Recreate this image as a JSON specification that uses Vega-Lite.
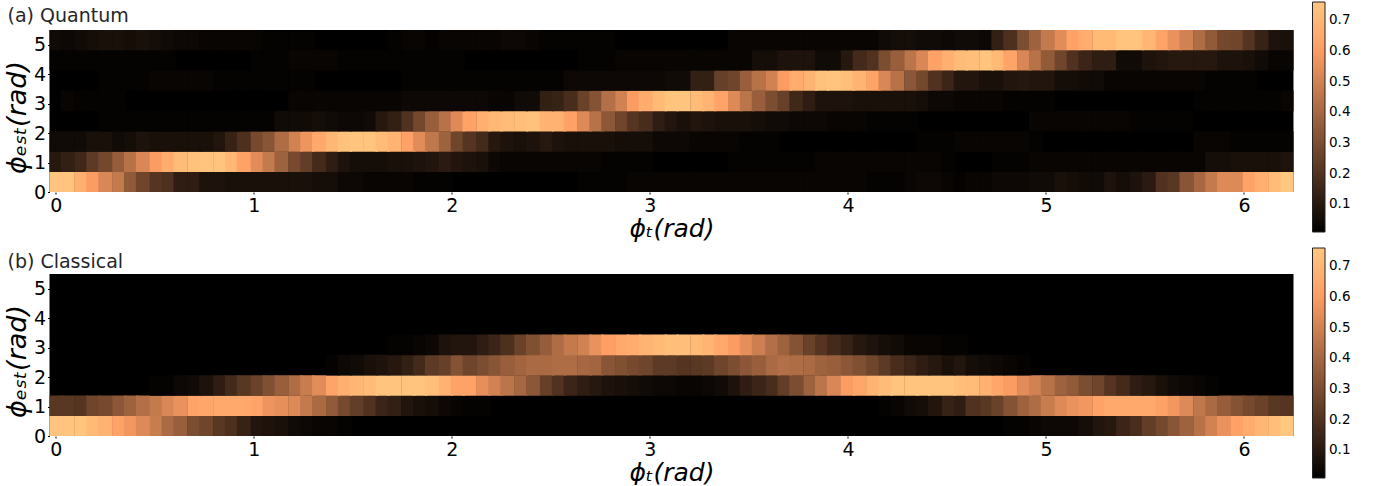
{"$schema":"https://vega.github.io/schema/vega-lite/v6.json","padding":{"left":2.5,"top":2,"right":0,"bottom":0},"background":"white","config":{"font":"DejaVu Sans","view":{"stroke":null,"fill":"#000000"},"axis":{"labelFont":"DejaVu Sans","titleFont":"DejaVu Sans","labelFontSize":19,"labelColor":"#000000","tickColor":"#000000","tickSize":2,"labelPadding":2,"grid":false,"domain":false,"titleFontSize":25,"titleFontStyle":"italic","titleFontWeight":"normal","titleColor":"#000000"},"title":{"font":"DejaVu Sans","fontSize":19,"fontWeight":"normal","anchor":"start","frame":"group","color":"#262626"}},"spacing":7,"resolve":{"scale":{"color":"independent"}},"vconcat":[{"width":1244,"height":162,"title":{"text":"(a) Quantum","dx":-42,"dy":30,"offset":6},"data":{"values":[
{"x":0,"y":0.34,"v":0.75},{"x":0.06,"y":0.34,"v":0.75},{"x":0.13,"y":0.34,"v":0.67},{"x":0.19,"y":0.34,"v":0.6},{"x":0.25,"y":0.34,"v":0.52},{"x":0.32,"y":0.34,"v":0.47},{"x":0.38,"y":0.34,"v":0.35},{"x":0.44,"y":0.34,"v":0.27},{"x":0.51,"y":0.34,"v":0.21},{"x":0.57,"y":0.34,"v":0.19},{"x":0.63,"y":0.34,"v":0.12},{"x":0.7,"y":0.34,"v":0.12},{"x":0.76,"y":0.34,"v":0.08},{"x":0.83,"y":0.34,"v":0.08},{"x":0.89,"y":0.34,"v":0.07},{"x":0.95,"y":0.34,"v":0.07},{"x":1.02,"y":0.34,"v":0.07},{"x":1.08,"y":0.34,"v":0.07},{"x":1.14,"y":0.34,"v":0.07},{"x":1.21,"y":0.34,"v":0.07},{"x":1.27,"y":0.34,"v":0.07},{"x":1.33,"y":0.34,"v":0.06},{"x":1.4,"y":0.34,"v":0.06},{"x":1.46,"y":0.34,"v":0.04},{"x":1.52,"y":0.34,"v":0.04},{"x":1.59,"y":0.34,"v":0.03},{"x":1.65,"y":0.34,"v":0.03},{"x":1.71,"y":0.34,"v":0.03},{"x":1.78,"y":0.34,"v":0.03},{"x":1.84,"y":0.34,"v":0.02},{"x":1.9,"y":0.34,"v":0.02},{"x":1.97,"y":0.34,"v":0.02},{"x":2.67,"y":0.34,"v":0.02},{"x":2.73,"y":0.34,"v":0.02},{"x":2.79,"y":0.34,"v":0.02},{"x":2.86,"y":0.34,"v":0.02},{"x":2.92,"y":0.34,"v":0.03},{"x":2.98,"y":0.34,"v":0.03},{"x":3.05,"y":0.34,"v":0.03},{"x":3.11,"y":0.34,"v":0.03},{"x":3.17,"y":0.34,"v":0.03},{"x":3.24,"y":0.34,"v":0.03},{"x":3.3,"y":0.34,"v":0.03},{"x":3.36,"y":0.34,"v":0.03},{"x":3.43,"y":0.34,"v":0.03},{"x":3.49,"y":0.34,"v":0.03},{"x":3.55,"y":0.34,"v":0.03},{"x":3.62,"y":0.34,"v":0.03},{"x":3.68,"y":0.34,"v":0.03},{"x":3.74,"y":0.34,"v":0.03},{"x":3.81,"y":0.34,"v":0.03},{"x":3.87,"y":0.34,"v":0.03},{"x":3.93,"y":0.34,"v":0.03},{"x":4,"y":0.34,"v":0.03},{"x":4.06,"y":0.34,"v":0.03},{"x":4.13,"y":0.34,"v":0.02},{"x":4.19,"y":0.34,"v":0.02},{"x":4.25,"y":0.34,"v":0.02},{"x":4.32,"y":0.34,"v":0.03},{"x":4.38,"y":0.34,"v":0.04},{"x":4.44,"y":0.34,"v":0.04},{"x":4.51,"y":0.34,"v":0.03},{"x":4.57,"y":0.34,"v":0.02},{"x":4.63,"y":0.34,"v":0.03},{"x":4.7,"y":0.34,"v":0.03},{"x":4.76,"y":0.34,"v":0.04},{"x":4.82,"y":0.34,"v":0.04},{"x":4.89,"y":0.34,"v":0.04},{"x":4.95,"y":0.34,"v":0.05},{"x":5.01,"y":0.34,"v":0.05},{"x":5.08,"y":0.34,"v":0.07},{"x":5.14,"y":0.34,"v":0.06},{"x":5.2,"y":0.34,"v":0.05},{"x":5.27,"y":0.34,"v":0.05},{"x":5.33,"y":0.34,"v":0.08},{"x":5.39,"y":0.34,"v":0.06},{"x":5.46,"y":0.34,"v":0.08},{"x":5.52,"y":0.34,"v":0.11},{"x":5.59,"y":0.34,"v":0.2},{"x":5.65,"y":0.34,"v":0.22},{"x":5.71,"y":0.34,"v":0.33},{"x":5.78,"y":0.34,"v":0.4},{"x":5.84,"y":0.34,"v":0.47},{"x":5.9,"y":0.34,"v":0.53},{"x":5.97,"y":0.34,"v":0.53},{"x":6.03,"y":0.34,"v":0.62},{"x":6.09,"y":0.34,"v":0.67},{"x":6.16,"y":0.34,"v":0.72},{"x":6.22,"y":0.34,"v":0.76},
{"x":0,"y":1.03,"v":0.1},{"x":0.06,"y":1.03,"v":0.13},{"x":0.13,"y":1.03,"v":0.16},{"x":0.19,"y":1.03,"v":0.23},{"x":0.25,"y":1.03,"v":0.28},{"x":0.32,"y":1.03,"v":0.36},{"x":0.38,"y":1.03,"v":0.44},{"x":0.44,"y":1.03,"v":0.52},{"x":0.51,"y":1.03,"v":0.6},{"x":0.57,"y":1.03,"v":0.66},{"x":0.63,"y":1.03,"v":0.72},{"x":0.7,"y":1.03,"v":0.74},{"x":0.76,"y":1.03,"v":0.75},{"x":0.83,"y":1.03,"v":0.75},{"x":0.89,"y":1.03,"v":0.7},{"x":0.95,"y":1.03,"v":0.62},{"x":1.02,"y":1.03,"v":0.54},{"x":1.08,"y":1.03,"v":0.47},{"x":1.14,"y":1.03,"v":0.38},{"x":1.21,"y":1.03,"v":0.29},{"x":1.27,"y":1.03,"v":0.24},{"x":1.33,"y":1.03,"v":0.17},{"x":1.4,"y":1.03,"v":0.12},{"x":1.46,"y":1.03,"v":0.08},{"x":1.52,"y":1.03,"v":0.06},{"x":1.59,"y":1.03,"v":0.06},{"x":1.65,"y":1.03,"v":0.06},{"x":1.71,"y":1.03,"v":0.07},{"x":1.78,"y":1.03,"v":0.07},{"x":1.84,"y":1.03,"v":0.08},{"x":1.9,"y":1.03,"v":0.09},{"x":1.97,"y":1.03,"v":0.11},{"x":2.03,"y":1.03,"v":0.09},{"x":2.09,"y":1.03,"v":0.08},{"x":2.16,"y":1.03,"v":0.07},{"x":2.22,"y":1.03,"v":0.04},{"x":2.28,"y":1.03,"v":0.03},{"x":2.35,"y":1.03,"v":0.03},{"x":2.41,"y":1.03,"v":0.03},{"x":2.48,"y":1.03,"v":0.03},{"x":2.54,"y":1.03,"v":0.03},{"x":2.6,"y":1.03,"v":0.03},{"x":2.67,"y":1.03,"v":0.03},{"x":2.73,"y":1.03,"v":0.03},{"x":2.79,"y":1.03,"v":0.02},{"x":2.86,"y":1.03,"v":0.02},{"x":2.92,"y":1.03,"v":0.02},{"x":2.98,"y":1.03,"v":0.02},{"x":3.43,"y":1.03,"v":0.02},{"x":3.49,"y":1.03,"v":0.02},{"x":3.55,"y":1.03,"v":0.02},{"x":3.62,"y":1.03,"v":0.02},{"x":3.68,"y":1.03,"v":0.02},{"x":3.74,"y":1.03,"v":0.02},{"x":3.81,"y":1.03,"v":0.02},{"x":3.87,"y":1.03,"v":0.03},{"x":3.93,"y":1.03,"v":0.03},{"x":4,"y":1.03,"v":0.03},{"x":4.06,"y":1.03,"v":0.03},{"x":4.13,"y":1.03,"v":0.03},{"x":4.19,"y":1.03,"v":0.03},{"x":4.25,"y":1.03,"v":0.03},{"x":4.32,"y":1.03,"v":0.03},{"x":4.38,"y":1.03,"v":0.03},{"x":4.44,"y":1.03,"v":0.03},{"x":4.51,"y":1.03,"v":0.02},{"x":4.76,"y":1.03,"v":0.02},{"x":4.82,"y":1.03,"v":0.02},{"x":4.89,"y":1.03,"v":0.02},{"x":4.95,"y":1.03,"v":0.03},{"x":5.01,"y":1.03,"v":0.03},{"x":5.08,"y":1.03,"v":0.03},{"x":5.14,"y":1.03,"v":0.03},{"x":5.2,"y":1.03,"v":0.03},{"x":5.27,"y":1.03,"v":0.03},{"x":5.33,"y":1.03,"v":0.03},{"x":5.39,"y":1.03,"v":0.03},{"x":5.46,"y":1.03,"v":0.03},{"x":5.52,"y":1.03,"v":0.03},{"x":5.59,"y":1.03,"v":0.03},{"x":5.65,"y":1.03,"v":0.03},{"x":5.71,"y":1.03,"v":0.03},{"x":5.78,"y":1.03,"v":0.03},{"x":5.84,"y":1.03,"v":0.06},{"x":5.9,"y":1.03,"v":0.06},{"x":5.97,"y":1.03,"v":0.07},{"x":6.03,"y":1.03,"v":0.07},{"x":6.09,"y":1.03,"v":0.07},{"x":6.16,"y":1.03,"v":0.07},{"x":6.22,"y":1.03,"v":0.08},
{"x":0,"y":1.72,"v":0.05},{"x":0.06,"y":1.72,"v":0.05},{"x":0.13,"y":1.72,"v":0.05},{"x":0.19,"y":1.72,"v":0.07},{"x":0.25,"y":1.72,"v":0.07},{"x":0.32,"y":1.72,"v":0.05},{"x":0.38,"y":1.72,"v":0.06},{"x":0.44,"y":1.72,"v":0.08},{"x":0.51,"y":1.72,"v":0.07},{"x":0.57,"y":1.72,"v":0.07},{"x":0.63,"y":1.72,"v":0.07},{"x":0.7,"y":1.72,"v":0.07},{"x":0.76,"y":1.72,"v":0.07},{"x":0.83,"y":1.72,"v":0.09},{"x":0.89,"y":1.72,"v":0.14},{"x":0.95,"y":1.72,"v":0.19},{"x":1.02,"y":1.72,"v":0.29},{"x":1.08,"y":1.72,"v":0.33},{"x":1.14,"y":1.72,"v":0.42},{"x":1.21,"y":1.72,"v":0.5},{"x":1.27,"y":1.72,"v":0.57},{"x":1.33,"y":1.72,"v":0.65},{"x":1.4,"y":1.72,"v":0.7},{"x":1.46,"y":1.72,"v":0.74},{"x":1.52,"y":1.72,"v":0.75},{"x":1.59,"y":1.72,"v":0.75},{"x":1.65,"y":1.72,"v":0.72},{"x":1.71,"y":1.72,"v":0.69},{"x":1.78,"y":1.72,"v":0.62},{"x":1.84,"y":1.72,"v":0.54},{"x":1.9,"y":1.72,"v":0.46},{"x":1.97,"y":1.72,"v":0.38},{"x":2.03,"y":1.72,"v":0.27},{"x":2.09,"y":1.72,"v":0.21},{"x":2.16,"y":1.72,"v":0.17},{"x":2.22,"y":1.72,"v":0.1},{"x":2.28,"y":1.72,"v":0.08},{"x":2.35,"y":1.72,"v":0.07},{"x":2.41,"y":1.72,"v":0.08},{"x":2.48,"y":1.72,"v":0.1},{"x":2.54,"y":1.72,"v":0.08},{"x":2.6,"y":1.72,"v":0.07},{"x":2.67,"y":1.72,"v":0.07},{"x":2.73,"y":1.72,"v":0.07},{"x":2.79,"y":1.72,"v":0.07},{"x":2.86,"y":1.72,"v":0.06},{"x":2.92,"y":1.72,"v":0.06},{"x":2.98,"y":1.72,"v":0.06},{"x":3.05,"y":1.72,"v":0.04},{"x":3.11,"y":1.72,"v":0.04},{"x":3.17,"y":1.72,"v":0.04},{"x":3.24,"y":1.72,"v":0.03},{"x":3.3,"y":1.72,"v":0.03},{"x":3.36,"y":1.72,"v":0.03},{"x":3.43,"y":1.72,"v":0.03},{"x":3.49,"y":1.72,"v":0.02},{"x":3.55,"y":1.72,"v":0.02},{"x":3.62,"y":1.72,"v":0.02},{"x":4.38,"y":1.72,"v":0.02},{"x":4.44,"y":1.72,"v":0.02},{"x":4.51,"y":1.72,"v":0.02},{"x":4.57,"y":1.72,"v":0.03},{"x":4.63,"y":1.72,"v":0.03},{"x":4.7,"y":1.72,"v":0.03},{"x":4.76,"y":1.72,"v":0.03},{"x":4.82,"y":1.72,"v":0.03},{"x":4.89,"y":1.72,"v":0.03},{"x":4.95,"y":1.72,"v":0.02},{"x":5.78,"y":1.72,"v":0.03},{"x":5.84,"y":1.72,"v":0.03},{"x":5.9,"y":1.72,"v":0.03},{"x":5.97,"y":1.72,"v":0.02},{"x":6.03,"y":1.72,"v":0.02},{"x":6.09,"y":1.72,"v":0.02},{"x":6.16,"y":1.72,"v":0.02},{"x":6.22,"y":1.72,"v":0.02},
{"x":0.25,"y":2.41,"v":0.02},{"x":0.32,"y":2.41,"v":0.02},{"x":0.38,"y":2.41,"v":0.02},{"x":0.44,"y":2.41,"v":0.02},{"x":0.51,"y":2.41,"v":0.02},{"x":0.57,"y":2.41,"v":0.02},{"x":0.63,"y":2.41,"v":0.02},{"x":0.7,"y":2.41,"v":0.02},{"x":0.76,"y":2.41,"v":0.02},{"x":0.83,"y":2.41,"v":0.02},{"x":0.89,"y":2.41,"v":0.02},{"x":0.95,"y":2.41,"v":0.02},{"x":1.02,"y":2.41,"v":0.02},{"x":1.08,"y":2.41,"v":0.02},{"x":1.14,"y":2.41,"v":0.05},{"x":1.21,"y":2.41,"v":0.05},{"x":1.27,"y":2.41,"v":0.05},{"x":1.33,"y":2.41,"v":0.06},{"x":1.4,"y":2.41,"v":0.05},{"x":1.46,"y":2.41,"v":0.04},{"x":1.52,"y":2.41,"v":0.04},{"x":1.59,"y":2.41,"v":0.05},{"x":1.65,"y":2.41,"v":0.1},{"x":1.71,"y":2.41,"v":0.13},{"x":1.78,"y":2.41,"v":0.2},{"x":1.84,"y":2.41,"v":0.28},{"x":1.9,"y":2.41,"v":0.37},{"x":1.97,"y":2.41,"v":0.44},{"x":2.03,"y":2.41,"v":0.53},{"x":2.09,"y":2.41,"v":0.62},{"x":2.16,"y":2.41,"v":0.67},{"x":2.22,"y":2.41,"v":0.7},{"x":2.28,"y":2.41,"v":0.72},{"x":2.35,"y":2.41,"v":0.73},{"x":2.41,"y":2.41,"v":0.74},{"x":2.48,"y":2.41,"v":0.69},{"x":2.54,"y":2.41,"v":0.68},{"x":2.6,"y":2.41,"v":0.62},{"x":2.67,"y":2.41,"v":0.53},{"x":2.73,"y":2.41,"v":0.44},{"x":2.79,"y":2.41,"v":0.34},{"x":2.86,"y":2.41,"v":0.27},{"x":2.92,"y":2.41,"v":0.21},{"x":2.98,"y":2.41,"v":0.18},{"x":3.05,"y":2.41,"v":0.12},{"x":3.11,"y":2.41,"v":0.09},{"x":3.17,"y":2.41,"v":0.07},{"x":3.24,"y":2.41,"v":0.09},{"x":3.3,"y":2.41,"v":0.08},{"x":3.36,"y":2.41,"v":0.07},{"x":3.43,"y":2.41,"v":0.07},{"x":3.49,"y":2.41,"v":0.07},{"x":3.55,"y":2.41,"v":0.06},{"x":3.62,"y":2.41,"v":0.05},{"x":3.68,"y":2.41,"v":0.05},{"x":3.74,"y":2.41,"v":0.04},{"x":3.81,"y":2.41,"v":0.04},{"x":3.87,"y":2.41,"v":0.04},{"x":3.93,"y":2.41,"v":0.03},{"x":4,"y":2.41,"v":0.03},{"x":4.06,"y":2.41,"v":0.03},{"x":4.13,"y":2.41,"v":0.02},{"x":4.19,"y":2.41,"v":0.02},{"x":4.25,"y":2.41,"v":0.02},{"x":4.32,"y":2.41,"v":0.02},{"x":4.95,"y":2.41,"v":0.03},{"x":5.01,"y":2.41,"v":0.03},{"x":5.08,"y":2.41,"v":0.03},{"x":5.14,"y":2.41,"v":0.03},{"x":5.2,"y":2.41,"v":0.03},{"x":5.27,"y":2.41,"v":0.03},{"x":5.33,"y":2.41,"v":0.03},{"x":5.39,"y":2.41,"v":0.03},{"x":5.46,"y":2.41,"v":0.02},{"x":5.52,"y":2.41,"v":0.02},{"x":5.59,"y":2.41,"v":0.02},{"x":5.65,"y":2.41,"v":0.02},{"x":5.71,"y":2.41,"v":0.02},
{"x":0.06,"y":3.1,"v":0.03},{"x":0.13,"y":3.1,"v":0.02},{"x":0.19,"y":3.1,"v":0.02},{"x":0.25,"y":3.1,"v":0.02},{"x":0.32,"y":3.1,"v":0.02},{"x":1.21,"y":3.1,"v":0.03},{"x":1.27,"y":3.1,"v":0.03},{"x":1.33,"y":3.1,"v":0.03},{"x":1.4,"y":3.1,"v":0.03},{"x":1.46,"y":3.1,"v":0.03},{"x":1.52,"y":3.1,"v":0.03},{"x":1.59,"y":3.1,"v":0.03},{"x":1.65,"y":3.1,"v":0.03},{"x":1.71,"y":3.1,"v":0.03},{"x":1.78,"y":3.1,"v":0.04},{"x":1.84,"y":3.1,"v":0.04},{"x":1.9,"y":3.1,"v":0.04},{"x":1.97,"y":3.1,"v":0.04},{"x":2.03,"y":3.1,"v":0.04},{"x":2.09,"y":3.1,"v":0.04},{"x":2.16,"y":3.1,"v":0.04},{"x":2.22,"y":3.1,"v":0.03},{"x":2.28,"y":3.1,"v":0.03},{"x":2.35,"y":3.1,"v":0.05},{"x":2.41,"y":3.1,"v":0.05},{"x":2.48,"y":3.1,"v":0.13},{"x":2.54,"y":3.1,"v":0.14},{"x":2.6,"y":3.1,"v":0.18},{"x":2.67,"y":3.1,"v":0.26},{"x":2.73,"y":3.1,"v":0.32},{"x":2.79,"y":3.1,"v":0.43},{"x":2.86,"y":3.1,"v":0.5},{"x":2.92,"y":3.1,"v":0.6},{"x":2.98,"y":3.1,"v":0.66},{"x":3.05,"y":3.1,"v":0.71},{"x":3.11,"y":3.1,"v":0.75},{"x":3.17,"y":3.1,"v":0.75},{"x":3.24,"y":3.1,"v":0.72},{"x":3.3,"y":3.1,"v":0.69},{"x":3.36,"y":3.1,"v":0.63},{"x":3.43,"y":3.1,"v":0.53},{"x":3.49,"y":3.1,"v":0.45},{"x":3.55,"y":3.1,"v":0.37},{"x":3.62,"y":3.1,"v":0.3},{"x":3.68,"y":3.1,"v":0.25},{"x":3.74,"y":3.1,"v":0.16},{"x":3.81,"y":3.1,"v":0.12},{"x":3.87,"y":3.1,"v":0.08},{"x":3.93,"y":3.1,"v":0.08},{"x":4,"y":3.1,"v":0.08},{"x":4.06,"y":3.1,"v":0.07},{"x":4.13,"y":3.1,"v":0.07},{"x":4.19,"y":3.1,"v":0.07},{"x":4.25,"y":3.1,"v":0.07},{"x":4.32,"y":3.1,"v":0.07},{"x":4.38,"y":3.1,"v":0.06},{"x":4.44,"y":3.1,"v":0.04},{"x":4.51,"y":3.1,"v":0.04},{"x":4.57,"y":3.1,"v":0.03},{"x":4.63,"y":3.1,"v":0.03},{"x":4.7,"y":3.1,"v":0.03},{"x":4.76,"y":3.1,"v":0.03},{"x":4.82,"y":3.1,"v":0.02},{"x":4.89,"y":3.1,"v":0.02},{"x":4.95,"y":3.1,"v":0.02},{"x":5.01,"y":3.1,"v":0.02},{"x":5.78,"y":3.1,"v":0.02},{"x":5.84,"y":3.1,"v":0.02},{"x":5.9,"y":3.1,"v":0.02},{"x":5.97,"y":3.1,"v":0.02},{"x":6.03,"y":3.1,"v":0.02},{"x":6.09,"y":3.1,"v":0.02},{"x":6.16,"y":3.1,"v":0.02},{"x":6.22,"y":3.1,"v":0.03},
{"x":0.25,"y":3.79,"v":0.02},{"x":0.32,"y":3.79,"v":0.02},{"x":0.38,"y":3.79,"v":0.02},{"x":0.44,"y":3.79,"v":0.02},{"x":0.51,"y":3.79,"v":0.03},{"x":0.57,"y":3.79,"v":0.03},{"x":0.63,"y":3.79,"v":0.03},{"x":0.7,"y":3.79,"v":0.03},{"x":0.76,"y":3.79,"v":0.03},{"x":0.83,"y":3.79,"v":0.02},{"x":0.89,"y":3.79,"v":0.02},{"x":0.95,"y":3.79,"v":0.02},{"x":1.02,"y":3.79,"v":0.02},{"x":1.08,"y":3.79,"v":0.02},{"x":1.14,"y":3.79,"v":0.02},{"x":1.21,"y":3.79,"v":0.02},{"x":1.27,"y":3.79,"v":0.02},{"x":1.78,"y":3.79,"v":0.02},{"x":1.84,"y":3.79,"v":0.02},{"x":1.9,"y":3.79,"v":0.02},{"x":1.97,"y":3.79,"v":0.02},{"x":2.03,"y":3.79,"v":0.02},{"x":2.09,"y":3.79,"v":0.02},{"x":2.16,"y":3.79,"v":0.02},{"x":2.22,"y":3.79,"v":0.02},{"x":2.28,"y":3.79,"v":0.02},{"x":2.35,"y":3.79,"v":0.02},{"x":2.41,"y":3.79,"v":0.02},{"x":2.48,"y":3.79,"v":0.02},{"x":2.54,"y":3.79,"v":0.02},{"x":2.6,"y":3.79,"v":0.04},{"x":2.67,"y":3.79,"v":0.04},{"x":2.73,"y":3.79,"v":0.04},{"x":2.79,"y":3.79,"v":0.04},{"x":2.86,"y":3.79,"v":0.04},{"x":2.92,"y":3.79,"v":0.04},{"x":2.98,"y":3.79,"v":0.04},{"x":3.05,"y":3.79,"v":0.04},{"x":3.11,"y":3.79,"v":0.05},{"x":3.17,"y":3.79,"v":0.05},{"x":3.24,"y":3.79,"v":0.13},{"x":3.3,"y":3.79,"v":0.13},{"x":3.36,"y":3.79,"v":0.25},{"x":3.43,"y":3.79,"v":0.27},{"x":3.49,"y":3.79,"v":0.37},{"x":3.55,"y":3.79,"v":0.44},{"x":3.62,"y":3.79,"v":0.5},{"x":3.68,"y":3.79,"v":0.6},{"x":3.74,"y":3.79,"v":0.66},{"x":3.81,"y":3.79,"v":0.69},{"x":3.87,"y":3.79,"v":0.74},{"x":3.93,"y":3.79,"v":0.75},{"x":4,"y":3.79,"v":0.73},{"x":4.06,"y":3.79,"v":0.69},{"x":4.13,"y":3.79,"v":0.63},{"x":4.19,"y":3.79,"v":0.52},{"x":4.25,"y":3.79,"v":0.44},{"x":4.32,"y":3.79,"v":0.34},{"x":4.38,"y":3.79,"v":0.28},{"x":4.44,"y":3.79,"v":0.2},{"x":4.51,"y":3.79,"v":0.15},{"x":4.57,"y":3.79,"v":0.09},{"x":4.63,"y":3.79,"v":0.09},{"x":4.7,"y":3.79,"v":0.07},{"x":4.76,"y":3.79,"v":0.07},{"x":4.82,"y":3.79,"v":0.09},{"x":4.89,"y":3.79,"v":0.1},{"x":4.95,"y":3.79,"v":0.09},{"x":5.01,"y":3.79,"v":0.09},{"x":5.08,"y":3.79,"v":0.06},{"x":5.14,"y":3.79,"v":0.06},{"x":5.2,"y":3.79,"v":0.05},{"x":5.27,"y":3.79,"v":0.05},{"x":5.33,"y":3.79,"v":0.03},{"x":5.39,"y":3.79,"v":0.03},{"x":5.46,"y":3.79,"v":0.03},{"x":5.52,"y":3.79,"v":0.03},{"x":5.59,"y":3.79,"v":0.03},{"x":5.65,"y":3.79,"v":0.03},{"x":5.71,"y":3.79,"v":0.03},{"x":5.78,"y":3.79,"v":0.03},{"x":5.84,"y":3.79,"v":0.02},{"x":5.9,"y":3.79,"v":0.02},{"x":5.97,"y":3.79,"v":0.02},{"x":6.03,"y":3.79,"v":0.02},
{"x":0,"y":4.48,"v":0.02},{"x":0.06,"y":4.48,"v":0.02},{"x":0.13,"y":4.48,"v":0.02},{"x":0.19,"y":4.48,"v":0.02},{"x":0.25,"y":4.48,"v":0.02},{"x":0.32,"y":4.48,"v":0.02},{"x":0.38,"y":4.48,"v":0.02},{"x":0.44,"y":4.48,"v":0.02},{"x":0.51,"y":4.48,"v":0.02},{"x":0.57,"y":4.48,"v":0.02},{"x":1.02,"y":4.48,"v":0.02},{"x":1.08,"y":4.48,"v":0.02},{"x":1.14,"y":4.48,"v":0.02},{"x":1.21,"y":4.48,"v":0.03},{"x":1.27,"y":4.48,"v":0.03},{"x":1.33,"y":4.48,"v":0.03},{"x":1.4,"y":4.48,"v":0.03},{"x":1.46,"y":4.48,"v":0.02},{"x":1.52,"y":4.48,"v":0.02},{"x":1.59,"y":4.48,"v":0.02},{"x":1.65,"y":4.48,"v":0.02},{"x":1.71,"y":4.48,"v":0.02},{"x":1.78,"y":4.48,"v":0.02},{"x":1.84,"y":4.48,"v":0.02},{"x":1.9,"y":4.48,"v":0.02},{"x":1.97,"y":4.48,"v":0.02},{"x":2.03,"y":4.48,"v":0.02},{"x":2.67,"y":4.48,"v":0.02},{"x":2.73,"y":4.48,"v":0.02},{"x":2.79,"y":4.48,"v":0.02},{"x":2.86,"y":4.48,"v":0.03},{"x":2.92,"y":4.48,"v":0.03},{"x":2.98,"y":4.48,"v":0.03},{"x":3.05,"y":4.48,"v":0.03},{"x":3.11,"y":4.48,"v":0.03},{"x":3.17,"y":4.48,"v":0.03},{"x":3.24,"y":4.48,"v":0.03},{"x":3.3,"y":4.48,"v":0.03},{"x":3.36,"y":4.48,"v":0.03},{"x":3.43,"y":4.48,"v":0.03},{"x":3.49,"y":4.48,"v":0.03},{"x":3.55,"y":4.48,"v":0.06},{"x":3.62,"y":4.48,"v":0.06},{"x":3.68,"y":4.48,"v":0.08},{"x":3.74,"y":4.48,"v":0.08},{"x":3.81,"y":4.48,"v":0.08},{"x":3.87,"y":4.48,"v":0.05},{"x":3.93,"y":4.48,"v":0.05},{"x":4,"y":4.48,"v":0.1},{"x":4.06,"y":4.48,"v":0.17},{"x":4.13,"y":4.48,"v":0.2},{"x":4.19,"y":4.48,"v":0.3},{"x":4.25,"y":4.48,"v":0.37},{"x":4.32,"y":4.48,"v":0.45},{"x":4.38,"y":4.48,"v":0.52},{"x":4.44,"y":4.48,"v":0.62},{"x":4.51,"y":4.48,"v":0.67},{"x":4.57,"y":4.48,"v":0.72},{"x":4.63,"y":4.48,"v":0.73},{"x":4.7,"y":4.48,"v":0.75},{"x":4.76,"y":4.48,"v":0.71},{"x":4.82,"y":4.48,"v":0.63},{"x":4.89,"y":4.48,"v":0.52},{"x":4.95,"y":4.48,"v":0.44},{"x":5.01,"y":4.48,"v":0.35},{"x":5.08,"y":4.48,"v":0.27},{"x":5.14,"y":4.48,"v":0.2},{"x":5.2,"y":4.48,"v":0.15},{"x":5.27,"y":4.48,"v":0.12},{"x":5.33,"y":4.48,"v":0.12},{"x":5.39,"y":4.48,"v":0.05},{"x":5.46,"y":4.48,"v":0.05},{"x":5.52,"y":4.48,"v":0.08},{"x":5.59,"y":4.48,"v":0.09},{"x":5.65,"y":4.48,"v":0.1},{"x":5.71,"y":4.48,"v":0.1},{"x":5.78,"y":4.48,"v":0.1},{"x":5.84,"y":4.48,"v":0.1},{"x":5.9,"y":4.48,"v":0.08},{"x":5.97,"y":4.48,"v":0.08},{"x":6.03,"y":4.48,"v":0.07},{"x":6.09,"y":4.48,"v":0.05},{"x":6.16,"y":4.48,"v":0.03},{"x":6.22,"y":4.48,"v":0.03},
{"x":0,"y":5.17,"v":0.05},{"x":0.06,"y":5.17,"v":0.04},{"x":0.13,"y":5.17,"v":0.05},{"x":0.19,"y":5.17,"v":0.06},{"x":0.25,"y":5.17,"v":0.07},{"x":0.32,"y":5.17,"v":0.07},{"x":0.38,"y":5.17,"v":0.06},{"x":0.44,"y":5.17,"v":0.07},{"x":0.51,"y":5.17,"v":0.06},{"x":0.57,"y":5.17,"v":0.05},{"x":0.63,"y":5.17,"v":0.04},{"x":0.7,"y":5.17,"v":0.04},{"x":0.76,"y":5.17,"v":0.03},{"x":0.83,"y":5.17,"v":0.03},{"x":0.89,"y":5.17,"v":0.03},{"x":0.95,"y":5.17,"v":0.03},{"x":1.02,"y":5.17,"v":0.03},{"x":1.08,"y":5.17,"v":0.02},{"x":1.14,"y":5.17,"v":0.02},{"x":1.21,"y":5.17,"v":0.02},{"x":1.27,"y":5.17,"v":0.02},{"x":1.71,"y":5.17,"v":0.02},{"x":1.78,"y":5.17,"v":0.03},{"x":1.84,"y":5.17,"v":0.03},{"x":1.9,"y":5.17,"v":0.02},{"x":1.97,"y":5.17,"v":0.03},{"x":2.03,"y":5.17,"v":0.03},{"x":2.09,"y":5.17,"v":0.03},{"x":2.16,"y":5.17,"v":0.03},{"x":2.22,"y":5.17,"v":0.03},{"x":2.28,"y":5.17,"v":0.04},{"x":2.35,"y":5.17,"v":0.04},{"x":2.41,"y":5.17,"v":0.03},{"x":2.48,"y":5.17,"v":0.02},{"x":2.54,"y":5.17,"v":0.02},{"x":2.6,"y":5.17,"v":0.02},{"x":2.67,"y":5.17,"v":0.02},{"x":2.73,"y":5.17,"v":0.02},{"x":2.79,"y":5.17,"v":0.02},{"x":3.43,"y":5.17,"v":0.03},{"x":3.49,"y":5.17,"v":0.03},{"x":3.55,"y":5.17,"v":0.03},{"x":3.62,"y":5.17,"v":0.03},{"x":3.68,"y":5.17,"v":0.03},{"x":3.74,"y":5.17,"v":0.03},{"x":3.81,"y":5.17,"v":0.03},{"x":3.87,"y":5.17,"v":0.03},{"x":3.93,"y":5.17,"v":0.03},{"x":4,"y":5.17,"v":0.03},{"x":4.06,"y":5.17,"v":0.03},{"x":4.13,"y":5.17,"v":0.03},{"x":4.19,"y":5.17,"v":0.05},{"x":4.25,"y":5.17,"v":0.06},{"x":4.32,"y":5.17,"v":0.06},{"x":4.38,"y":5.17,"v":0.05},{"x":4.44,"y":5.17,"v":0.05},{"x":4.51,"y":5.17,"v":0.04},{"x":4.57,"y":5.17,"v":0.05},{"x":4.63,"y":5.17,"v":0.05},{"x":4.7,"y":5.17,"v":0.04},{"x":4.76,"y":5.17,"v":0.13},{"x":4.82,"y":5.17,"v":0.19},{"x":4.89,"y":5.17,"v":0.3},{"x":4.95,"y":5.17,"v":0.38},{"x":5.01,"y":5.17,"v":0.47},{"x":5.08,"y":5.17,"v":0.54},{"x":5.14,"y":5.17,"v":0.62},{"x":5.2,"y":5.17,"v":0.66},{"x":5.27,"y":5.17,"v":0.71},{"x":5.33,"y":5.17,"v":0.71},{"x":5.39,"y":5.17,"v":0.75},{"x":5.46,"y":5.17,"v":0.75},{"x":5.52,"y":5.17,"v":0.7},{"x":5.59,"y":5.17,"v":0.63},{"x":5.65,"y":5.17,"v":0.56},{"x":5.71,"y":5.17,"v":0.5},{"x":5.78,"y":5.17,"v":0.42},{"x":5.84,"y":5.17,"v":0.35},{"x":5.9,"y":5.17,"v":0.28},{"x":5.97,"y":5.17,"v":0.27},{"x":6.03,"y":5.17,"v":0.21},{"x":6.09,"y":5.17,"v":0.14},{"x":6.16,"y":5.17,"v":0.08},{"x":6.22,"y":5.17,"v":0.07}
]},"mark":{"type":"rect","width":14.2,"height":20.6,"clip":true},"encoding":{"x":{"field":"x","type":"quantitative","scale":{"domain":[-0.032,6.25],"nice":false,"zero":false},"axis":{"values":[0,1,2,3,4,5,6],"title":"ϕₜ(rad)","titlePadding":1,"labelAngle":0}},"y":{"field":"y","type":"quantitative","scale":{"domain":[0,5.51],"nice":false,"zero":false},"axis":{"values":[0,1,2,3,4,5],"title":"ϕₑₛₜ(rad)","titlePadding":2,"titleFontSize":27,"titleY":87}},"color":{"field":"v","type":"quantitative","scale":{"domain":[0.01,0.61,0.76],"range":["#000000","#ff9f65","#ffc77f"],"interpolate":"rgb"},"legend":{"title":null,"orient":"none","legendX":1263,"legendY":-28,"gradientLength":230,"gradientThickness":12.5,"values":[0.1,0.2,0.3,0.4,0.5,0.6,0.7],"labelFontSize":13.5,"labelColor":"#000000","labelOffset":4,"gradientStrokeColor":"#222222","gradientStrokeWidth":1,"format":".1f"}}}},{"width":1244,"height":162,"title":{"text":"(b) Classical","dx":-42,"dy":30,"offset":6},"data":{"values":[
{"x":0,"y":0.34,"v":0.75},{"x":0.06,"y":0.34,"v":0.75},{"x":0.13,"y":0.34,"v":0.75},{"x":0.19,"y":0.34,"v":0.71},{"x":0.25,"y":0.34,"v":0.68},{"x":0.32,"y":0.34,"v":0.62},{"x":0.38,"y":0.34,"v":0.58},{"x":0.44,"y":0.34,"v":0.53},{"x":0.51,"y":0.34,"v":0.48},{"x":0.57,"y":0.34,"v":0.41},{"x":0.63,"y":0.34,"v":0.37},{"x":0.7,"y":0.34,"v":0.3},{"x":0.76,"y":0.34,"v":0.27},{"x":0.83,"y":0.34,"v":0.22},{"x":0.89,"y":0.34,"v":0.19},{"x":0.95,"y":0.34,"v":0.14},{"x":1.02,"y":0.34,"v":0.09},{"x":1.08,"y":0.34,"v":0.08},{"x":1.14,"y":0.34,"v":0.07},{"x":1.21,"y":0.34,"v":0.05},{"x":1.27,"y":0.34,"v":0.04},{"x":1.33,"y":0.34,"v":0.03},{"x":1.4,"y":0.34,"v":0.03},{"x":1.46,"y":0.34,"v":0.02},{"x":4.82,"y":0.34,"v":0.02},{"x":4.89,"y":0.34,"v":0.02},{"x":4.95,"y":0.34,"v":0.03},{"x":5.01,"y":0.34,"v":0.04},{"x":5.08,"y":0.34,"v":0.04},{"x":5.14,"y":0.34,"v":0.04},{"x":5.2,"y":0.34,"v":0.06},{"x":5.27,"y":0.34,"v":0.09},{"x":5.33,"y":0.34,"v":0.1},{"x":5.39,"y":0.34,"v":0.15},{"x":5.46,"y":0.34,"v":0.18},{"x":5.52,"y":0.34,"v":0.24},{"x":5.59,"y":0.34,"v":0.28},{"x":5.65,"y":0.34,"v":0.33},{"x":5.71,"y":0.34,"v":0.38},{"x":5.78,"y":0.34,"v":0.44},{"x":5.84,"y":0.34,"v":0.5},{"x":5.9,"y":0.34,"v":0.56},{"x":5.97,"y":0.34,"v":0.62},{"x":6.03,"y":0.34,"v":0.66},{"x":6.09,"y":0.34,"v":0.7},{"x":6.16,"y":0.34,"v":0.73},{"x":6.22,"y":0.34,"v":0.76},
{"x":0,"y":1.03,"v":0.22},{"x":0.06,"y":1.03,"v":0.22},{"x":0.13,"y":1.03,"v":0.21},{"x":0.19,"y":1.03,"v":0.27},{"x":0.25,"y":1.03,"v":0.29},{"x":0.32,"y":1.03,"v":0.34},{"x":0.38,"y":1.03,"v":0.38},{"x":0.44,"y":1.03,"v":0.43},{"x":0.51,"y":1.03,"v":0.47},{"x":0.57,"y":1.03,"v":0.52},{"x":0.63,"y":1.03,"v":0.56},{"x":0.7,"y":1.03,"v":0.63},{"x":0.76,"y":1.03,"v":0.64},{"x":0.83,"y":1.03,"v":0.65},{"x":0.89,"y":1.03,"v":0.65},{"x":0.95,"y":1.03,"v":0.65},{"x":1.02,"y":1.03,"v":0.63},{"x":1.08,"y":1.03,"v":0.57},{"x":1.14,"y":1.03,"v":0.55},{"x":1.21,"y":1.03,"v":0.53},{"x":1.27,"y":1.03,"v":0.47},{"x":1.33,"y":1.03,"v":0.41},{"x":1.4,"y":1.03,"v":0.35},{"x":1.46,"y":1.03,"v":0.29},{"x":1.52,"y":1.03,"v":0.24},{"x":1.59,"y":1.03,"v":0.2},{"x":1.65,"y":1.03,"v":0.15},{"x":1.71,"y":1.03,"v":0.13},{"x":1.78,"y":1.03,"v":0.09},{"x":1.84,"y":1.03,"v":0.07},{"x":1.9,"y":1.03,"v":0.06},{"x":1.97,"y":1.03,"v":0.04},{"x":2.03,"y":1.03,"v":0.03},{"x":2.09,"y":1.03,"v":0.02},{"x":2.16,"y":1.03,"v":0.02},{"x":4.19,"y":1.03,"v":0.02},{"x":4.25,"y":1.03,"v":0.03},{"x":4.32,"y":1.03,"v":0.05},{"x":4.38,"y":1.03,"v":0.06},{"x":4.44,"y":1.03,"v":0.09},{"x":4.51,"y":1.03,"v":0.14},{"x":4.57,"y":1.03,"v":0.12},{"x":4.63,"y":1.03,"v":0.2},{"x":4.7,"y":1.03,"v":0.22},{"x":4.76,"y":1.03,"v":0.26},{"x":4.82,"y":1.03,"v":0.32},{"x":4.89,"y":1.03,"v":0.38},{"x":4.95,"y":1.03,"v":0.42},{"x":5.01,"y":1.03,"v":0.48},{"x":5.08,"y":1.03,"v":0.53},{"x":5.14,"y":1.03,"v":0.56},{"x":5.2,"y":1.03,"v":0.58},{"x":5.27,"y":1.03,"v":0.62},{"x":5.33,"y":1.03,"v":0.65},{"x":5.39,"y":1.03,"v":0.65},{"x":5.46,"y":1.03,"v":0.65},{"x":5.52,"y":1.03,"v":0.65},{"x":5.59,"y":1.03,"v":0.62},{"x":5.65,"y":1.03,"v":0.58},{"x":5.71,"y":1.03,"v":0.53},{"x":5.78,"y":1.03,"v":0.46},{"x":5.84,"y":1.03,"v":0.41},{"x":5.9,"y":1.03,"v":0.36},{"x":5.97,"y":1.03,"v":0.32},{"x":6.03,"y":1.03,"v":0.29},{"x":6.09,"y":1.03,"v":0.26},{"x":6.16,"y":1.03,"v":0.22},{"x":6.22,"y":1.03,"v":0.21},
{"x":0.51,"y":1.72,"v":0.02},{"x":0.57,"y":1.72,"v":0.02},{"x":0.63,"y":1.72,"v":0.04},{"x":0.7,"y":1.72,"v":0.05},{"x":0.76,"y":1.72,"v":0.08},{"x":0.83,"y":1.72,"v":0.12},{"x":0.89,"y":1.72,"v":0.17},{"x":0.95,"y":1.72,"v":0.22},{"x":1.02,"y":1.72,"v":0.26},{"x":1.08,"y":1.72,"v":0.31},{"x":1.14,"y":1.72,"v":0.37},{"x":1.21,"y":1.72,"v":0.42},{"x":1.27,"y":1.72,"v":0.48},{"x":1.33,"y":1.72,"v":0.54},{"x":1.4,"y":1.72,"v":0.63},{"x":1.46,"y":1.72,"v":0.67},{"x":1.52,"y":1.72,"v":0.7},{"x":1.59,"y":1.72,"v":0.72},{"x":1.65,"y":1.72,"v":0.75},{"x":1.71,"y":1.72,"v":0.75},{"x":1.78,"y":1.72,"v":0.75},{"x":1.84,"y":1.72,"v":0.75},{"x":1.9,"y":1.72,"v":0.73},{"x":1.97,"y":1.72,"v":0.68},{"x":2.03,"y":1.72,"v":0.63},{"x":2.09,"y":1.72,"v":0.62},{"x":2.16,"y":1.72,"v":0.55},{"x":2.22,"y":1.72,"v":0.5},{"x":2.28,"y":1.72,"v":0.45},{"x":2.35,"y":1.72,"v":0.4},{"x":2.41,"y":1.72,"v":0.34},{"x":2.48,"y":1.72,"v":0.25},{"x":2.54,"y":1.72,"v":0.2},{"x":2.6,"y":1.72,"v":0.15},{"x":2.67,"y":1.72,"v":0.12},{"x":2.73,"y":1.72,"v":0.1},{"x":2.79,"y":1.72,"v":0.08},{"x":2.86,"y":1.72,"v":0.07},{"x":2.92,"y":1.72,"v":0.06},{"x":2.98,"y":1.72,"v":0.05},{"x":3.05,"y":1.72,"v":0.04},{"x":3.11,"y":1.72,"v":0.04},{"x":3.17,"y":1.72,"v":0.03},{"x":3.24,"y":1.72,"v":0.03},{"x":3.3,"y":1.72,"v":0.04},{"x":3.36,"y":1.72,"v":0.05},{"x":3.43,"y":1.72,"v":0.08},{"x":3.49,"y":1.72,"v":0.12},{"x":3.55,"y":1.72,"v":0.15},{"x":3.62,"y":1.72,"v":0.18},{"x":3.68,"y":1.72,"v":0.24},{"x":3.74,"y":1.72,"v":0.3},{"x":3.81,"y":1.72,"v":0.38},{"x":3.87,"y":1.72,"v":0.45},{"x":3.93,"y":1.72,"v":0.52},{"x":4,"y":1.72,"v":0.6},{"x":4.06,"y":1.72,"v":0.64},{"x":4.13,"y":1.72,"v":0.69},{"x":4.19,"y":1.72,"v":0.72},{"x":4.25,"y":1.72,"v":0.75},{"x":4.32,"y":1.72,"v":0.75},{"x":4.38,"y":1.72,"v":0.75},{"x":4.44,"y":1.72,"v":0.75},{"x":4.51,"y":1.72,"v":0.75},{"x":4.57,"y":1.72,"v":0.73},{"x":4.63,"y":1.72,"v":0.72},{"x":4.7,"y":1.72,"v":0.68},{"x":4.76,"y":1.72,"v":0.64},{"x":4.82,"y":1.72,"v":0.6},{"x":4.89,"y":1.72,"v":0.54},{"x":4.95,"y":1.72,"v":0.5},{"x":5.01,"y":1.72,"v":0.44},{"x":5.08,"y":1.72,"v":0.38},{"x":5.14,"y":1.72,"v":0.35},{"x":5.2,"y":1.72,"v":0.3},{"x":5.27,"y":1.72,"v":0.27},{"x":5.33,"y":1.72,"v":0.21},{"x":5.39,"y":1.72,"v":0.17},{"x":5.46,"y":1.72,"v":0.12},{"x":5.52,"y":1.72,"v":0.1},{"x":5.59,"y":1.72,"v":0.07},{"x":5.65,"y":1.72,"v":0.05},{"x":5.71,"y":1.72,"v":0.04},{"x":5.78,"y":1.72,"v":0.03},{"x":5.84,"y":1.72,"v":0.02},
{"x":1.4,"y":2.41,"v":0.02},{"x":1.46,"y":2.41,"v":0.04},{"x":1.52,"y":2.41,"v":0.05},{"x":1.59,"y":2.41,"v":0.07},{"x":1.65,"y":2.41,"v":0.08},{"x":1.71,"y":2.41,"v":0.1},{"x":1.78,"y":2.41,"v":0.13},{"x":1.84,"y":2.41,"v":0.17},{"x":1.9,"y":2.41,"v":0.23},{"x":1.97,"y":2.41,"v":0.25},{"x":2.03,"y":2.41,"v":0.32},{"x":2.09,"y":2.41,"v":0.27},{"x":2.16,"y":2.41,"v":0.3},{"x":2.22,"y":2.41,"v":0.33},{"x":2.28,"y":2.41,"v":0.37},{"x":2.35,"y":2.41,"v":0.39},{"x":2.41,"y":2.41,"v":0.41},{"x":2.48,"y":2.41,"v":0.41},{"x":2.54,"y":2.41,"v":0.42},{"x":2.6,"y":2.41,"v":0.42},{"x":2.67,"y":2.41,"v":0.4},{"x":2.73,"y":2.41,"v":0.39},{"x":2.79,"y":2.41,"v":0.33},{"x":2.86,"y":2.41,"v":0.31},{"x":2.92,"y":2.41,"v":0.29},{"x":2.98,"y":2.41,"v":0.27},{"x":3.05,"y":2.41,"v":0.23},{"x":3.11,"y":2.41,"v":0.23},{"x":3.17,"y":2.41,"v":0.21},{"x":3.24,"y":2.41,"v":0.22},{"x":3.3,"y":2.41,"v":0.23},{"x":3.36,"y":2.41,"v":0.27},{"x":3.43,"y":2.41,"v":0.3},{"x":3.49,"y":2.41,"v":0.34},{"x":3.55,"y":2.41,"v":0.37},{"x":3.62,"y":2.41,"v":0.41},{"x":3.68,"y":2.41,"v":0.43},{"x":3.74,"y":2.41,"v":0.42},{"x":3.81,"y":2.41,"v":0.41},{"x":3.87,"y":2.41,"v":0.38},{"x":3.93,"y":2.41,"v":0.37},{"x":4,"y":2.41,"v":0.34},{"x":4.06,"y":2.41,"v":0.31},{"x":4.13,"y":2.41,"v":0.27},{"x":4.19,"y":2.41,"v":0.23},{"x":4.25,"y":2.41,"v":0.18},{"x":4.32,"y":2.41,"v":0.15},{"x":4.38,"y":2.41,"v":0.12},{"x":4.44,"y":2.41,"v":0.1},{"x":4.51,"y":2.41,"v":0.07},{"x":4.57,"y":2.41,"v":0.09},{"x":4.63,"y":2.41,"v":0.06},{"x":4.7,"y":2.41,"v":0.05},{"x":4.76,"y":2.41,"v":0.04},{"x":4.82,"y":2.41,"v":0.03},{"x":4.89,"y":2.41,"v":0.02},
{"x":1.71,"y":3.1,"v":0.02},{"x":1.78,"y":3.1,"v":0.02},{"x":1.84,"y":3.1,"v":0.03},{"x":1.9,"y":3.1,"v":0.04},{"x":1.97,"y":3.1,"v":0.08},{"x":2.03,"y":3.1,"v":0.09},{"x":2.09,"y":3.1,"v":0.09},{"x":2.16,"y":3.1,"v":0.12},{"x":2.22,"y":3.1,"v":0.15},{"x":2.28,"y":3.1,"v":0.19},{"x":2.35,"y":3.1,"v":0.26},{"x":2.41,"y":3.1,"v":0.31},{"x":2.48,"y":3.1,"v":0.36},{"x":2.54,"y":3.1,"v":0.42},{"x":2.6,"y":3.1,"v":0.47},{"x":2.67,"y":3.1,"v":0.5},{"x":2.73,"y":3.1,"v":0.56},{"x":2.79,"y":3.1,"v":0.61},{"x":2.86,"y":3.1,"v":0.65},{"x":2.92,"y":3.1,"v":0.66},{"x":2.98,"y":3.1,"v":0.69},{"x":3.05,"y":3.1,"v":0.71},{"x":3.11,"y":3.1,"v":0.73},{"x":3.17,"y":3.1,"v":0.73},{"x":3.24,"y":3.1,"v":0.71},{"x":3.3,"y":3.1,"v":0.69},{"x":3.36,"y":3.1,"v":0.65},{"x":3.43,"y":3.1,"v":0.6},{"x":3.49,"y":3.1,"v":0.55},{"x":3.55,"y":3.1,"v":0.49},{"x":3.62,"y":3.1,"v":0.43},{"x":3.68,"y":3.1,"v":0.38},{"x":3.74,"y":3.1,"v":0.32},{"x":3.81,"y":3.1,"v":0.26},{"x":3.87,"y":3.1,"v":0.21},{"x":3.93,"y":3.1,"v":0.17},{"x":4,"y":3.1,"v":0.14},{"x":4.06,"y":3.1,"v":0.1},{"x":4.13,"y":3.1,"v":0.08},{"x":4.19,"y":3.1,"v":0.06},{"x":4.25,"y":3.1,"v":0.05},{"x":4.32,"y":3.1,"v":0.03},{"x":4.38,"y":3.1,"v":0.03},{"x":4.44,"y":3.1,"v":0.03},{"x":4.51,"y":3.1,"v":0.02},{"x":4.57,"y":3.1,"v":0.02}
]},"mark":{"type":"rect","width":14.2,"height":20.6,"clip":true},"encoding":{"x":{"field":"x","type":"quantitative","scale":{"domain":[-0.032,6.25],"nice":false,"zero":false},"axis":{"values":[0,1,2,3,4,5,6],"title":"ϕₜ(rad)","titlePadding":1,"labelAngle":0}},"y":{"field":"y","type":"quantitative","scale":{"domain":[0,5.51],"nice":false,"zero":false},"axis":{"values":[0,1,2,3,4,5],"title":"ϕₑₛₜ(rad)","titlePadding":2,"titleFontSize":27,"titleY":87}},"color":{"field":"v","type":"quantitative","scale":{"domain":[0.01,0.61,0.76],"range":["#000000","#ff9f65","#ffc77f"],"interpolate":"rgb"},"legend":{"title":null,"orient":"none","legendX":1263,"legendY":-26,"gradientLength":230,"gradientThickness":12.5,"values":[0.1,0.2,0.3,0.4,0.5,0.6,0.7],"labelFontSize":13.5,"labelColor":"#000000","labelOffset":4,"gradientStrokeColor":"#222222","gradientStrokeWidth":1,"format":".1f"}}}}]}
